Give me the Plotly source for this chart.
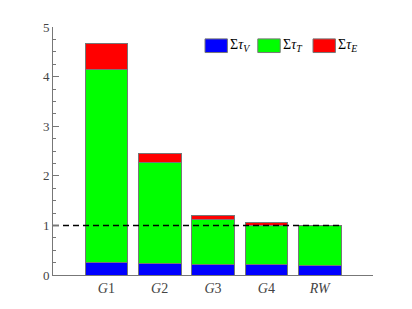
import plotly.graph_objects as go

categories = ["G1", "G2", "G3", "G4", "RW"]
tick_labels = ["<i>G</i>1", "<i>G</i>2", "<i>G</i>3", "<i>G</i>4", "<i>RW</i>"]
tau_V = [0.26, 0.24, 0.21, 0.205, 0.20]
tau_T = [3.89, 2.02, 0.915, 0.80, 0.80]
tau_E = [0.51, 0.18, 0.075, 0.045, 0.0]
ref_level = 1.0

names = ["Σ<i>τ</i><sub><i>V</i></sub>", "Σ<i>τ</i><sub><i>T</i></sub>", "Σ<i>τ</i><sub><i>E</i></sub>"]
colors = ["#0000ff", "#00ff00", "#ff0000"]
series = [tau_V, tau_T, tau_E]

x = list(range(len(categories)))
fig = go.Figure()
for vals, nm, col in zip(series, names, colors):
    fig.add_trace(go.Bar(x=x, y=vals, name=nm, marker=dict(color=col, line=dict(color="#777777", width=1)),
                         width=0.8, showlegend=False))

fig.add_trace(go.Scatter(x=[-1, len(categories) - 0.6], y=[ref_level, ref_level], mode="lines",
                         line=dict(color="black", width=1.5, dash="6px,4px"), showlegend=False))

font = "Liberation Serif"
# custom legend
lx = [0.475, 0.64, 0.8125]
for i, (nm, col) in enumerate(zip(names, colors)):
    fig.add_shape(type="rect", xref="paper", yref="paper", x0=lx[i], x1=lx[i] + 0.07, y0=0.897, y1=0.952,
                  fillcolor=col, line=dict(color="#777777", width=1))
    fig.add_annotation(xref="paper", yref="paper", x=lx[i] + 0.073, y=0.925, text=nm, showarrow=False,
                       xanchor="left", yanchor="middle", font=dict(family=font, size=14, color="black"))

fig.update_layout(
    barmode="stack",
    width=412, height=309,
    margin=dict(l=45, r=47, t=15, b=42),
    plot_bgcolor="white", paper_bgcolor="white",
    font=dict(family=font, size=13, color="#333333"),
    bargap=0.2,
)
fig.update_xaxes(range=[-1, 5], tickmode="array", tickvals=x, ticktext=tick_labels,
                 showline=True, linecolor="#777777", linewidth=1, ticks="", showgrid=False,
                 zeroline=False, tickfont=dict(family=font, size=14, color="#444444"))
fig.update_yaxes(range=[0, 5], tickvals=[0, 1, 2, 3, 4, 5], showline=True, linecolor="#777777", linewidth=1,
                 ticks="inside", ticklen=6, tickcolor="#777777", showgrid=False, zeroline=False,
                 minor=dict(ticks="inside", ticklen=3, dtick=0.25, tickcolor="#777777"),
                 tickfont=dict(family=font, size=13, color="#444444"))

fig.write_html("out.html")
